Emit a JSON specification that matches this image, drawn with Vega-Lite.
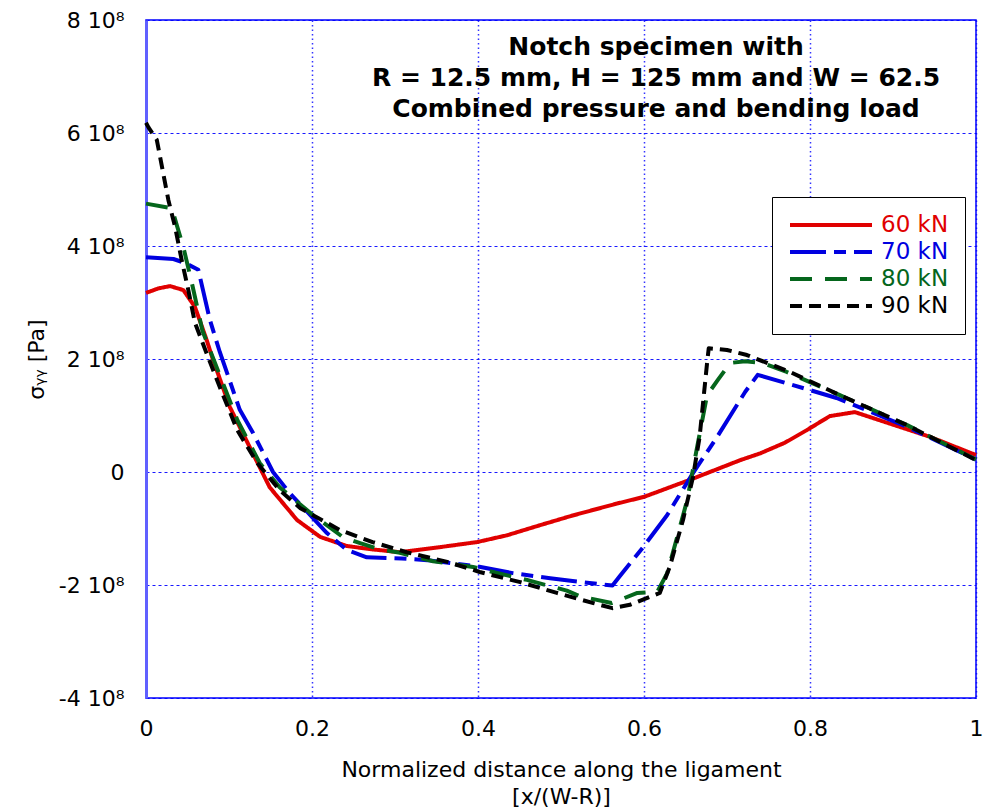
{
  "$schema": "https://vega.github.io/schema/vega-lite/v6.json",
  "width": 830,
  "height": 678,
  "autosize": {"type": "none"},
  "padding": {"left": 146, "top": 20, "right": 8, "bottom": 109},
  "background": "white",
  "title": {
    "text": ["Notch specimen with", "R = 12.5 mm, H = 125 mm and W = 62.5", "Combined pressure and bending load"],
    "font": "DejaVu Sans",
    "fontSize": 25,
    "fontWeight": "bold",
    "color": "black",
    "anchor": "middle",
    "frame": "group",
    "dx": 95,
    "offset": -113,
    "lineHeight": 31
  },
  "data": {
    "values": [
      {"load": "60 kN", "x": 0, "s": 3.17e8},
      {"load": "60 kN", "x": 0.015, "s": 3.25e8},
      {"load": "60 kN", "x": 0.029, "s": 3.29e8},
      {"load": "60 kN", "x": 0.045, "s": 3.22e8},
      {"load": "60 kN", "x": 0.059, "s": 2.92e8},
      {"load": "60 kN", "x": 0.073, "s": 2.34e8},
      {"load": "60 kN", "x": 0.08, "s": 2.02e8},
      {"load": "60 kN", "x": 0.101, "s": 1.15e8},
      {"load": "60 kN", "x": 0.125, "s": 0.44e8},
      {"load": "60 kN", "x": 0.149, "s": -0.27e8},
      {"load": "60 kN", "x": 0.182, "s": -0.85e8},
      {"load": "60 kN", "x": 0.21, "s": -1.15e8},
      {"load": "60 kN", "x": 0.242, "s": -1.31e8},
      {"load": "60 kN", "x": 0.273, "s": -1.37e8},
      {"load": "60 kN", "x": 0.306, "s": -1.42e8},
      {"load": "60 kN", "x": 0.354, "s": -1.33e8},
      {"load": "60 kN", "x": 0.399, "s": -1.24e8},
      {"load": "60 kN", "x": 0.435, "s": -1.12e8},
      {"load": "60 kN", "x": 0.475, "s": -0.94e8},
      {"load": "60 kN", "x": 0.514, "s": -0.77e8},
      {"load": "60 kN", "x": 0.567, "s": -0.56e8},
      {"load": "60 kN", "x": 0.6, "s": -0.44e8},
      {"load": "60 kN", "x": 0.655, "s": -0.14e8},
      {"load": "60 kN", "x": 0.716, "s": 0.21e8},
      {"load": "60 kN", "x": 0.74, "s": 0.33e8},
      {"load": "60 kN", "x": 0.77, "s": 0.52e8},
      {"load": "60 kN", "x": 0.796, "s": 0.74e8},
      {"load": "60 kN", "x": 0.824, "s": 0.99e8},
      {"load": "60 kN", "x": 0.854, "s": 1.06e8},
      {"load": "60 kN", "x": 0.945, "s": 0.62e8},
      {"load": "60 kN", "x": 1.0, "s": 0.3e8},

      {"load": "70 kN", "x": 0, "s": 3.8e8},
      {"load": "70 kN", "x": 0.033, "s": 3.77e8},
      {"load": "70 kN", "x": 0.047, "s": 3.7e8},
      {"load": "70 kN", "x": 0.063, "s": 3.58e8},
      {"load": "70 kN", "x": 0.077, "s": 2.69e8},
      {"load": "70 kN", "x": 0.089, "s": 2.12e8},
      {"load": "70 kN", "x": 0.113, "s": 1.1e8},
      {"load": "70 kN", "x": 0.129, "s": 0.69e8},
      {"load": "70 kN", "x": 0.153, "s": 0.0},
      {"load": "70 kN", "x": 0.173, "s": -0.37e8},
      {"load": "70 kN", "x": 0.218, "s": -1.08e8},
      {"load": "70 kN", "x": 0.242, "s": -1.38e8},
      {"load": "70 kN", "x": 0.266, "s": -1.51e8},
      {"load": "70 kN", "x": 0.308, "s": -1.53e8},
      {"load": "70 kN", "x": 0.339, "s": -1.56e8},
      {"load": "70 kN", "x": 0.399, "s": -1.67e8},
      {"load": "70 kN", "x": 0.442, "s": -1.79e8},
      {"load": "70 kN", "x": 0.487, "s": -1.88e8},
      {"load": "70 kN", "x": 0.514, "s": -1.93e8},
      {"load": "70 kN", "x": 0.562, "s": -2.01e8},
      {"load": "70 kN", "x": 0.571, "s": -1.84e8},
      {"load": "70 kN", "x": 0.599, "s": -1.33e8},
      {"load": "70 kN", "x": 0.628, "s": -0.76e8},
      {"load": "70 kN", "x": 0.659, "s": -0.02e8},
      {"load": "70 kN", "x": 0.688, "s": 0.62e8},
      {"load": "70 kN", "x": 0.722, "s": 1.42e8},
      {"load": "70 kN", "x": 0.737, "s": 1.72e8},
      {"load": "70 kN", "x": 0.8, "s": 1.45e8},
      {"load": "70 kN", "x": 0.832, "s": 1.31e8},
      {"load": "70 kN", "x": 0.917, "s": 0.8e8},
      {"load": "70 kN", "x": 1.0, "s": 0.22e8},

      {"load": "80 kN", "x": 0, "s": 4.75e8},
      {"load": "80 kN", "x": 0.031, "s": 4.67e8},
      {"load": "80 kN", "x": 0.045, "s": 3.98e8},
      {"load": "80 kN", "x": 0.055, "s": 3.36e8},
      {"load": "80 kN", "x": 0.068, "s": 2.5e8},
      {"load": "80 kN", "x": 0.085, "s": 1.86e8},
      {"load": "80 kN", "x": 0.11, "s": 0.92e8},
      {"load": "80 kN", "x": 0.137, "s": 0.16e8},
      {"load": "80 kN", "x": 0.161, "s": -0.27e8},
      {"load": "80 kN", "x": 0.201, "s": -0.76e8},
      {"load": "80 kN", "x": 0.237, "s": -1.15e8},
      {"load": "80 kN", "x": 0.258, "s": -1.26e8},
      {"load": "80 kN", "x": 0.282, "s": -1.37e8},
      {"load": "80 kN", "x": 0.306, "s": -1.43e8},
      {"load": "80 kN", "x": 0.346, "s": -1.58e8},
      {"load": "80 kN", "x": 0.394, "s": -1.68e8},
      {"load": "80 kN", "x": 0.418, "s": -1.77e8},
      {"load": "80 kN", "x": 0.459, "s": -1.91e8},
      {"load": "80 kN", "x": 0.507, "s": -2.1e8},
      {"load": "80 kN", "x": 0.523, "s": -2.2e8},
      {"load": "80 kN", "x": 0.561, "s": -2.32e8},
      {"load": "80 kN", "x": 0.592, "s": -2.14e8},
      {"load": "80 kN", "x": 0.616, "s": -2.12e8},
      {"load": "80 kN", "x": 0.628, "s": -1.79e8},
      {"load": "80 kN", "x": 0.64, "s": -1.15e8},
      {"load": "80 kN", "x": 0.652, "s": -0.5e8},
      {"load": "80 kN", "x": 0.664, "s": 0.44e8},
      {"load": "80 kN", "x": 0.676, "s": 1.36e8},
      {"load": "80 kN", "x": 0.689, "s": 1.63e8},
      {"load": "80 kN", "x": 0.704, "s": 1.93e8},
      {"load": "80 kN", "x": 0.722, "s": 1.96e8},
      {"load": "80 kN", "x": 0.743, "s": 1.93e8},
      {"load": "80 kN", "x": 0.772, "s": 1.77e8},
      {"load": "80 kN", "x": 0.836, "s": 1.36e8},
      {"load": "80 kN", "x": 0.917, "s": 0.83e8},
      {"load": "80 kN", "x": 1.0, "s": 0.22e8},

      {"load": "90 kN", "x": 0, "s": 6.18e8},
      {"load": "90 kN", "x": 0.003, "s": 6.1e8},
      {"load": "90 kN", "x": 0.013, "s": 5.88e8},
      {"load": "90 kN", "x": 0.027, "s": 4.81e8},
      {"load": "90 kN", "x": 0.035, "s": 4.34e8},
      {"load": "90 kN", "x": 0.043, "s": 3.75e8},
      {"load": "90 kN", "x": 0.051, "s": 3.22e8},
      {"load": "90 kN", "x": 0.059, "s": 2.64e8},
      {"load": "90 kN", "x": 0.073, "s": 2.1e8},
      {"load": "90 kN", "x": 0.089, "s": 1.5e8},
      {"load": "90 kN", "x": 0.11, "s": 0.74e8},
      {"load": "90 kN", "x": 0.134, "s": 0.16e8},
      {"load": "90 kN", "x": 0.161, "s": -0.32e8},
      {"load": "90 kN", "x": 0.186, "s": -0.64e8},
      {"load": "90 kN", "x": 0.234, "s": -1.03e8},
      {"load": "90 kN", "x": 0.273, "s": -1.24e8},
      {"load": "90 kN", "x": 0.314, "s": -1.42e8},
      {"load": "90 kN", "x": 0.363, "s": -1.59e8},
      {"load": "90 kN", "x": 0.402, "s": -1.77e8},
      {"load": "90 kN", "x": 0.451, "s": -1.95e8},
      {"load": "90 kN", "x": 0.495, "s": -2.14e8},
      {"load": "90 kN", "x": 0.539, "s": -2.32e8},
      {"load": "90 kN", "x": 0.562, "s": -2.41e8},
      {"load": "90 kN", "x": 0.583, "s": -2.35e8},
      {"load": "90 kN", "x": 0.619, "s": -2.14e8},
      {"load": "90 kN", "x": 0.631, "s": -1.68e8},
      {"load": "90 kN", "x": 0.647, "s": -0.85e8},
      {"load": "90 kN", "x": 0.659, "s": -0.09e8},
      {"load": "90 kN", "x": 0.667, "s": 0.62e8},
      {"load": "90 kN", "x": 0.676, "s": 1.93e8},
      {"load": "90 kN", "x": 0.678, "s": 2.19e8},
      {"load": "90 kN", "x": 0.7, "s": 2.16e8},
      {"load": "90 kN", "x": 0.724, "s": 2.07e8},
      {"load": "90 kN", "x": 0.776, "s": 1.77e8},
      {"load": "90 kN", "x": 0.836, "s": 1.36e8},
      {"load": "90 kN", "x": 0.917, "s": 0.83e8},
      {"load": "90 kN", "x": 1.0, "s": 0.21e8}
    ]
  },
  "mark": {"type": "line", "strokeWidth": 4, "strokeCap": "butt", "strokeJoin": "round"},
  "encoding": {
    "x": {
      "field": "x",
      "type": "quantitative",
      "scale": {"domain": [0, 1], "nice": false, "zero": false},
      "axis": {
        "values": [0, 0.2, 0.4, 0.6, 0.8, 1],
        "labelExpr": "'' + datum.value",
        "title": ["Normalized distance along the ligament", "[x/(W-R)]"],
        "titleFontWeight": "normal",
        "titleFontSize": 22,
        "titleLineHeight": 27,
        "titlePadding": 20,
        "titleColor": "black",
        "labelFontSize": 22,
        "labelColor": "black",
        "labelPadding": 20,
        "labelFlush": false,
        "ticks": false,
        "domain": false,
        "grid": true,
        "gridColor": "#0000ff",
        "gridDash": [1.5, 3],
        "gridWidth": 1.5,
        "gridOpacity": 0.8
      }
    },
    "y": {
      "field": "s",
      "type": "quantitative",
      "scale": {"domain": [-400000000, 800000000], "nice": false, "zero": false},
      "axis": {
        "values": [-400000000, -200000000, 0, 200000000, 400000000, 600000000, 800000000],
        "labelExpr": "datum.value == 0 ? '0' : (datum.value / 100000000) + ' 10⁸'",
        "title": "σᵧᵧ [Pa]",
        "titleFontWeight": "normal",
        "titleFontSize": 22,
        "titlePadding": 10,
        "titleColor": "black",
        "labelFontSize": 22,
        "labelColor": "black",
        "labelPadding": 22,
        "labelFlush": false,
        "ticks": false,
        "domain": true,
        "domainColor": "#6060ff",
        "domainWidth": 3,
        "grid": true,
        "gridColor": "#0000ff",
        "gridDash": [3, 3],
        "gridWidth": 1,
        "gridOpacity": 0.9
      }
    },
    "color": {
      "field": "load",
      "type": "nominal",
      "scale": {"domain": ["60 kN", "70 kN", "80 kN", "90 kN"], "range": ["#e00000", "#0000e0", "#05661c", "#000000"]},
      "legend": {
        "title": null,
        "orient": "none",
        "legendX": 626,
        "legendY": 177,
        "strokeColor": "black",
        "fillColor": "white",
        "padding": 16,
        "symbolType": "M-1,0H7.2",
        "symbolSize": 400,
        "symbolStrokeWidth": 4,
        "labelFontSize": 23,
        "labelOffset": 69,
        "rowPadding": 3,
        "encode": {"labels": {"update": {"fill": {"scale": "color", "field": "value"}}}}
      }
    },
    "strokeDash": {
      "field": "load",
      "type": "nominal",
      "scale": {"domain": ["60 kN", "70 kN", "80 kN", "90 kN"], "range": [[1, 0], [36, 8, 12, 8], [22, 13], [12, 7]]},
      "legend": null
    }
  },
  "config": {
    "font": "DejaVu Sans",
    "view": {"stroke": "#0000ff", "strokeWidth": 1.5},
    "axis": {"labelFont": "DejaVu Sans", "titleFont": "DejaVu Sans"},
    "legend": {"labelFont": "DejaVu Sans"}
  }
}
